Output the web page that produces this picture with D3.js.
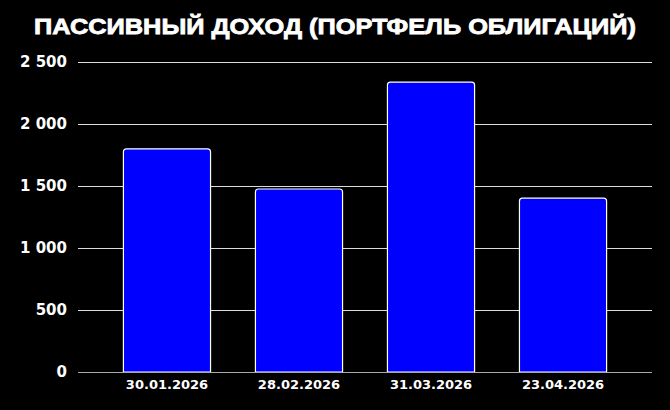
<!DOCTYPE html>
<html><head><meta charset="utf-8">
<script src="https://cdn.jsdelivr.net/npm/d3@7"></script>
<style>body{margin:0;background:#000}svg{display:block}</style>
</head><body>
<svg id="c" width="670" height="410"></svg>
<script>
const categories = ["30.01.2026","28.02.2026","31.03.2026","23.04.2026"];
const values = [1800, 1476, 2338, 1403];
const yTicks = [0, 500, 1000, 1500, 2000, 2500];
const title = "ПАССИВНЫЙ ДОХОД (ПОРТФЕЛЬ ОБЛИГАЦИЙ)";

const svg = d3.select("#c");
svg.append("rect").attr("width",670).attr("height",410).attr("fill","#000");
const L = 78, R = 652, T = 62, B = 372;
const x = d3.scaleBand().domain(categories).range([L,R]).paddingInner(0.34).paddingOuter(0.344);
const y = d3.scaleLinear().domain([0,2500]).range([B,T]);
const fam = "'Liberation Sans', Arial, sans-serif";
const famT = "'DejaVu Sans', sans-serif";

const t = svg.append("text").attr("x",335).attr("y",34).attr("text-anchor","middle")
  .attr("fill","#fff").attr("stroke","#fff").attr("stroke-width",0.8)
  .attr("font-family",fam).attr("font-weight","bold").attr("font-size",22.5)
  .text(title);
t.attr("textLength",602).attr("lengthAdjust","spacingAndGlyphs");

const ya = d3.axisLeft(y).tickValues(yTicks).tickSize(0).tickPadding(11)
  .tickFormat(d => d3.format(",")(d).replace(/,/g," "));
const gy = svg.append("g").attr("transform",`translate(${L},0)`).call(ya);
gy.select(".domain").remove();
gy.selectAll("text").attr("fill","#fff").attr("font-family",famT).attr("font-weight","bold").attr("font-size",15);

svg.append("g").selectAll("line").data(yTicks.filter(d=>d>0)).join("line")
  .attr("x1",L).attr("x2",R).attr("y1",d=>y(d)).attr("y2",d=>y(d))
  .attr("stroke","#ddd").attr("stroke-width",1).attr("shape-rendering","crispEdges");

const r = 3;
svg.append("g").selectAll("path").data(values).join("path")
  .attr("d",(d,i)=>{
    const x0 = x(categories[i]), w = x.bandwidth(), y0 = y(d), yb = y(0);
    return `M${x0},${yb}V${y0+r}Q${x0},${y0} ${x0+r},${y0}H${x0+w-r}Q${x0+w},${y0} ${x0+w},${y0+r}V${yb}Z`;
  })
  .attr("fill","#0000ff").attr("stroke","#fff").attr("stroke-width",1.2);

const xa = d3.axisBottom(x).tickSize(0).tickPadding(8);
const gx = svg.append("g").attr("transform",`translate(0,${B})`).call(xa);
gx.select(".domain").attr("stroke","#aaa").attr("d",`M${L},0.5H${R}`);
gx.selectAll("text").attr("fill","#fff").attr("font-family",famT).attr("font-weight","bold").attr("font-size",13);
</script>
</body></html>
